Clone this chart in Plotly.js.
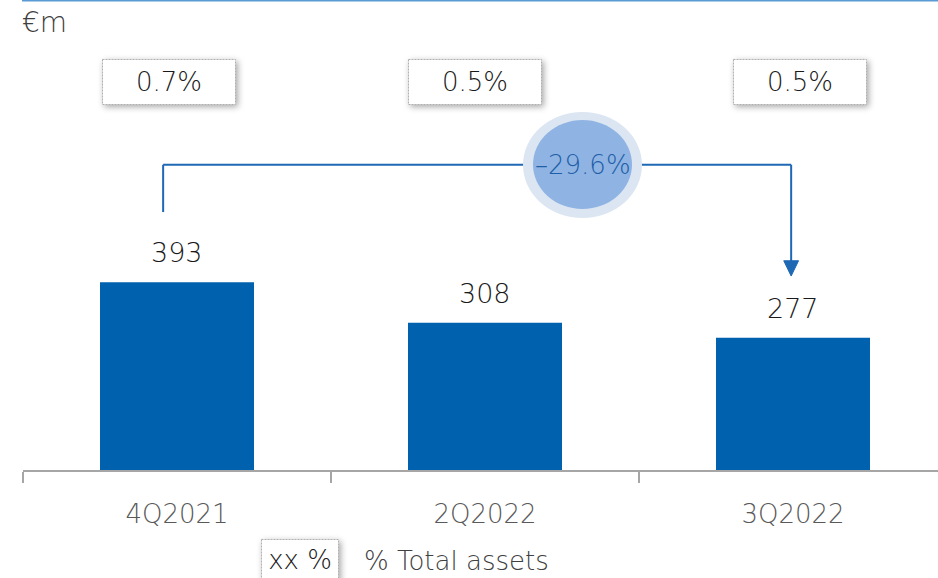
<!DOCTYPE html>
<html><head><meta charset="utf-8">
<script src="https://cdn.plot.ly/plotly-3.0.1.min.js"></script>
<style>body{margin:0;background:#fff;overflow:hidden}</style>
</head><body><div id="chart" style="width:938px;height:578px"></div>
<script>
const categories = ['4Q2021', '2Q2022', '3Q2022'];
const values = [393, 308, 277];
const shareOfAssets = ['0.7%', '0.5%', '0.5%'];
const changeLabel = '–29.6%';
const unitLabel = '€m';
const legendBoxLabel = 'xx %';
const legendText = '% Total assets';

const FONT = '"DejaVu Sans", sans-serif';
const WT = 200;
const M = {l: 23, r: 0, t: 20, b: 108};
const W = 938 - M.l - M.r, H = 578 - M.t - M.b;
const px = x => (x - M.l) / W;
const py = y => (578 - M.b - y) / H;
const yMax = 942;
const xMax = -0.5 + W / 308;

const annotations = [];
// value labels above bars
categories.forEach((c, i) => {
  annotations.push({x: i, y: values[i], xref: 'x', yref: 'y', text: String(values[i]),
    showarrow: false, yanchor: 'bottom', yshift: 12,
    font: {family: FONT, size: 27, color: '#1a1a1a', weight: WT}});
});
// share-of-assets boxes
const boxShift = [-8, -10, 7];
categories.forEach((c, i) => {
  annotations.push({x: i, y: py(82), xref: 'x', yref: 'paper', xshift: boxShift[i],
    text: shareOfAssets[i], showarrow: false, yanchor: 'middle',
    width: 132, height: 44, bgcolor: '#ffffff', bordercolor: '#b0b0b0', borderwidth: 1, borderpad: 0,
    font: {family: FONT, size: 26, color: '#1a1a1a', weight: WT}});
});
// change label
annotations.push({x: px(583), y: py(165), xref: 'paper', yref: 'paper', text: changeLabel,
  showarrow: false, xanchor: 'center', yanchor: 'middle',
  font: {family: FONT, size: 26, color: '#1f5fa8', weight: WT}});
// unit label
annotations.push({x: px(20), y: py(22), xref: 'paper', yref: 'paper', text: unitLabel,
  showarrow: false, xanchor: 'left', yanchor: 'middle',
  font: {family: FONT, size: 28, color: '#404040', weight: WT}});
// legend
annotations.push({x: px(300), y: py(560), xref: 'paper', yref: 'paper', text: legendBoxLabel,
  showarrow: false, xanchor: 'center', yanchor: 'middle', width: 76, height: 40,
  bgcolor: '#ffffff', bordercolor: '#b0b0b0', borderwidth: 1, borderpad: 0,
  font: {family: FONT, size: 26, color: '#1a1a1a', weight: WT}});
annotations.push({x: px(362), y: py(561), xref: 'paper', yref: 'paper', text: legendText,
  showarrow: false, xanchor: 'left', yanchor: 'middle',
  font: {family: FONT, size: 26, color: '#404040', weight: WT}});

const lineCol = '#1e68b4';
const shapes = [
  {type: 'line', xref: 'paper', yref: 'paper', x0: px(22), x1: px(938), y0: py(0.7), y1: py(0.7),
    line: {color: '#5b9bd5', width: 1.5}},
  {type: 'line', xref: 'x', yref: 'y', x0: -0.045, x1: -0.045, y0: 540, y1: 639, line: {color: lineCol, width: 2}},
  {type: 'line', xref: 'x', yref: 'y', x0: -0.045, x1: 1.994, y0: 639, y1: 639, line: {color: lineCol, width: 2}},
  {type: 'line', xref: 'x', yref: 'y', x0: 1.994, x1: 1.994, y0: 639, y1: 436, line: {color: lineCol, width: 2}},
  {type: 'path', xref: 'x', yref: 'y', path: 'M 1.970,438 L 2.018,438 L 1.994,406 Z',
    fillcolor: lineCol, line: {color: lineCol, width: 1}},
  {type: 'circle', xref: 'paper', yref: 'paper', x0: px(523), x1: px(642), y0: py(218), y1: py(112),
    fillcolor: '#dce6f2', line: {width: 0}},
  {type: 'circle', xref: 'paper', yref: 'paper', x0: px(533), x1: px(632), y0: py(209), y1: py(120),
    fillcolor: '#8fb4e3', line: {width: 0}}
];

const data = [{
  type: 'bar', x: categories, y: values, width: 0.5,
  marker: {color: '#0061ae', line: {width: 0}}, hoverinfo: 'skip'
}];

const layout = {
  width: 938, height: 578, margin: M,
  paper_bgcolor: '#ffffff', plot_bgcolor: '#ffffff', showlegend: false,
  xaxis: {type: 'category', range: [-0.5, xMax], showline: true, linecolor: '#a6a6a6', linewidth: 1.5,
    ticks: 'outside', tickson: 'boundaries', ticklen: 11, tickcolor: '#a6a6a6', tickwidth: 1.5,
    ticklabelstandoff: 20, showgrid: false, zeroline: false, fixedrange: true,
    tickfont: {family: FONT, size: 26, color: '#595959', weight: WT}},
  yaxis: {range: [0, yMax], visible: false, showgrid: false, zeroline: false, fixedrange: true},
  annotations: annotations, shapes: shapes
};

Plotly.newPlot('chart', data, layout, {displayModeBar: false, staticPlot: true}).then(() => {
  document.querySelectorAll('#chart g.annotation').forEach(g => {
    const r = g.querySelector('rect.bg');
    if (r && r.getAttribute('style') && r.getAttribute('style').indexOf('stroke-width: 1') >= 0) {
      r.style.strokeDasharray = '2,1';
      r.style.filter = 'drop-shadow(2px 2px 3px rgba(0,0,0,0.35))';
    }
  });
});
</script>
</body></html>
